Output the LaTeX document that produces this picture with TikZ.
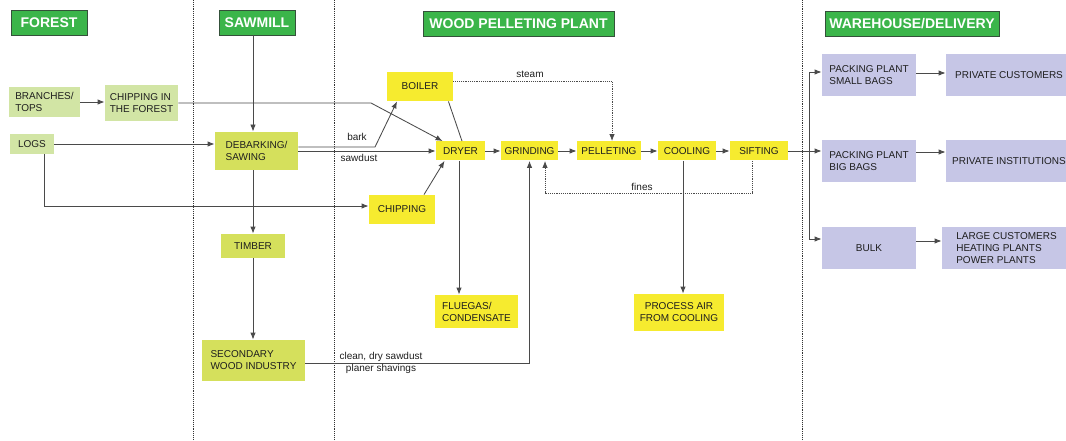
\documentclass[tikz,border=0pt]{standalone}
\usepackage{fontspec}
\setmainfont{Liberation Sans}
\usepackage{xcolor}
\usepackage{tikz}
\usetikzlibrary{shapes, arrows, arrows.meta}
\definecolor{hdrgreen}{HTML}{3BB54A}
\definecolor{hdrborder}{HTML}{34513A}
\definecolor{forestfill}{HTML}{D2E5A5}
\definecolor{millfill}{HTML}{D5E05C}
\definecolor{plantfill}{HTML}{F6EB2F}
\definecolor{storefill}{HTML}{C6C6E6}
\definecolor{linegray}{HTML}{4A4A4A}
\definecolor{textgray}{HTML}{1E1E1E}
\tikzstyle{header} = [draw=hdrborder, line width=0.8pt, fill=hdrgreen, text=white, font=\fontsize{14}{16}\selectfont\bfseries, minimum height=25pt, inner sep=0pt]
\tikzstyle{box} = [rectangle, text=textgray, align=left, inner sep=0pt, font=\fontsize{10}{12}\selectfont]
\tikzstyle{forestbox} = [box, fill=forestfill]
\tikzstyle{millbox} = [box, fill=millfill]
\tikzstyle{plantbox} = [box, fill=plantfill]
\tikzstyle{storebox} = [box, fill=storefill]
\tikzstyle{tag} = [text=textgray, inner sep=0pt, font=\fontsize{10}{12}\selectfont]

\begin{document}
\begin{tikzpicture}[x=1pt, y=-1pt, >={Latex[length=7pt,width=5.5pt]}, line width=0.85pt]
    % Rahmen
    \useasboundingbox (0,0) rectangle (1066,441);
    \clip (0,0) rectangle (1066,441);

    % Trennlinien
    \foreach \xpos in {193, 334, 802}
        \draw [densely dotted, line width=0.9pt, black!80] (\xpos,0) -- (\xpos,441);

    % Überschriften
    \node [header, minimum width=76pt] (forest) at (49,22.5) {FOREST};
    \node [header, minimum width=76pt] (sawmill) at (257,22.5) {SAWMILL};
    \node [header, minimum width=191pt] (plant) at (518.5,23.5) {WOOD PELLETING PLANT};
    \node [header, minimum width=174pt] (warehouse) at (912,23.5) {WAREHOUSE/DELIVERY};

    % Wald
    \node [forestbox, minimum width=71pt, minimum height=30pt] (branches) at (44.5,102) {BRANCHES/\\TOPS};
    \node [forestbox, minimum width=73pt, minimum height=36pt] (chipforest) at (141.5,103) {CHIPPING IN\\THE FOREST};
    \node [forestbox, minimum width=44pt, minimum height=20pt] (logs) at (32,144) {LOGS};

    % Sägewerk
    \node [millbox, minimum width=83pt, minimum height=38pt] (debark) at (256.5,151) {DEBARKING/\\SAWING};
    \node [millbox, minimum width=64pt, minimum height=24pt] (timber) at (253,246) {TIMBER};
    \node [millbox, minimum width=103pt, minimum height=41pt] (secondary) at (253.5,360.5) {SECONDARY\\WOOD INDUSTRY};

    % Pelletwerk
    \node [plantbox, minimum width=66pt, minimum height=29pt] (boiler) at (420,86.5) {BOILER};
    \node [plantbox, minimum width=49pt, minimum height=19pt] (dryer) at (460.5,151) {DRYER};
    \node [plantbox, minimum width=57pt, minimum height=19pt] (grinding) at (529.5,151) {GRINDING};
    \node [plantbox, minimum width=64pt, minimum height=19pt] (pelleting) at (609,151) {PELLETING};
    \node [plantbox, minimum width=58pt, minimum height=19pt] (cooling) at (687,151) {COOLING};
    \node [plantbox, minimum width=58pt, minimum height=19pt] (sifting) at (759,151) {SIFTING};
    \node [plantbox, minimum width=66pt, minimum height=29pt] (chipping) at (402,209.5) {CHIPPING};
    \node [plantbox, minimum width=83pt, minimum height=33pt] (fluegas) at (476.5,311.5) {FLUEGAS/\\CONDENSATE};
    \node [plantbox, align=center, minimum width=90pt, minimum height=37pt] (processair) at (679,312.5) {PROCESS AIR\\FROM COOLING};

    % Lager/Auslieferung
    \node [storebox, minimum width=94pt, minimum height=42pt] (smallbags) at (869,75) {PACKING PLANT\\SMALL BAGS};
    \node [storebox, minimum width=94pt, minimum height=42pt] (bigbags) at (869,161) {PACKING PLANT\\BIG BAGS};
    \node [storebox, minimum width=94pt, minimum height=42pt] (bulk) at (869,248) {BULK};
    \node [storebox, minimum width=126pt, minimum height=42pt] (privcust) at (1009,75) {PRIVATE CUSTOMERS};
    \node [storebox, minimum width=126pt, minimum height=42pt] (privinst) at (1009,161) {PRIVATE INSTITUTIONS};
    \node [storebox, minimum width=129pt, minimum height=42pt] (large) at (1006.5,248) {LARGE CUSTOMERS\\HEATING PLANTS\\POWER PLANTS};

    % Hilfspunkte
    \coordinate (chipbend) at (371,103);
    \coordinate (barkbend) at (375,147);
    \coordinate (split) at (809,151);

    % Verbindungen
    \begin{scope}[draw=linegray]
    \draw [->] (sawmill.south -| timber) -- (debark.north -| timber);
    \draw [->] (debark.south -| timber) -- (timber);
    \draw [->] (timber) -- (secondary.north -| timber);
    \draw [->] (branches.east) -- (branches.east -| chipforest.west);
    \draw [->] (chipforest.east) -- (chipbend) -- ([xshift=7pt]dryer.north west);
    \draw [->] (logs.east) -- (logs.east -| debark.west);
    \draw [->] ([xshift=12pt]logs.south) |- ([yshift=3.5pt]chipping.west);
    \draw [->] ([yshift=4pt]debark.east) -- (barkbend) -- ([xshift=-23pt]boiler.south);
    \draw [->] (debark.east) -- (dryer.west);
    \draw ([xshift=-5pt]boiler.south east) -- ([xshift=1.5pt]dryer.north);
    \draw [->] ([xshift=-1.5pt]dryer.south) -- ([xshift=-1.5pt]dryer.south |- fluegas.north);
    \draw [->] ([xshift=22pt]chipping.north) -- ([xshift=-16pt]dryer.south);
    \draw [->] (dryer) -- (grinding);
    \draw [->] (grinding) -- (pelleting);
    \draw [->] (pelleting) -- (cooling);
    \draw [->] (cooling) -- (sifting);
    \draw [->, densely dotted] ([yshift=5pt]boiler.east) -| ([xshift=3pt]pelleting.north);
    \draw [->, densely dotted] ([xshift=-7pt]sifting.south) -- ++(0,32) -| ([xshift=15.5pt]grinding.south);
    \draw [->] ([yshift=-2.5pt]secondary.east) -| (grinding.south);
    \draw [->] ([xshift=-4pt]cooling.south) -- ([xshift=-4pt]cooling.south |- processair.north);
    \draw [->] (sifting.east) -- (sifting.east -| bigbags.west);
    \draw [->] (split) |- ([yshift=3pt]smallbags.west);
    \draw [->] (split) |- ([yshift=9pt]bulk.west);
    \draw [->] ([yshift=2pt]smallbags.east) -- ([yshift=2pt]privcust.west);
    \draw [->] ([yshift=9pt]bigbags.east) -- ([yshift=9pt]privinst.west);
    \draw [->] ([yshift=7pt]bulk.east) -- ([yshift=7pt]large.west);
    \end{scope}

    % Beschriftungen
    \node [tag] (barktag) at (357,137) {bark};
    \node [tag] (sawdusttag) at (359,158) {sawdust};
    \node [tag] (steamtag) at (530,74) {steam};
    \node [tag] (finestag) at (642,187) {fines};
    \node [tag] (cleantag) at (381,356.5) {clean, dry sawdust};
    \node [tag] (planertag) at (381,368.5) {planer shavings};
\end{tikzpicture}
\end{document}
